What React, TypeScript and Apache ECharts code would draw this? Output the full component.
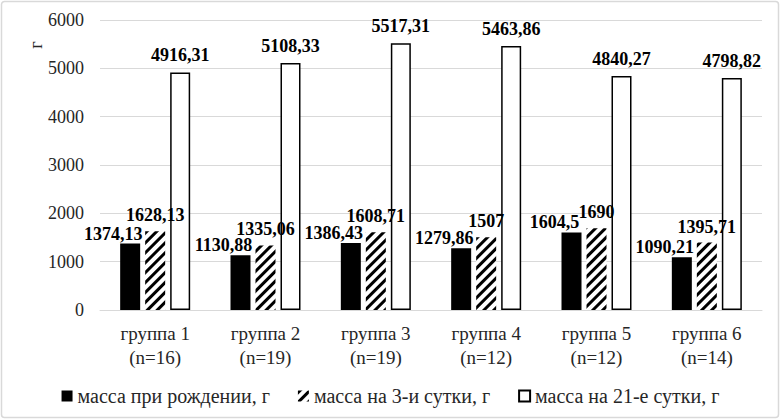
import React, { useEffect, useRef } from "react";
import * as echarts from "echarts";

const categories = [
  "группа 1\n(n=16)",
  "группа 2\n(n=19)",
  "группа 3\n(n=19)",
  "группа 4\n(n=12)",
  "группа 5\n(n=12)",
  "группа 6\n(n=14)",
];
const seriesNames = [
  "масса при рождении, г",
  "масса на 3-и сутки, г",
  "масса на 21-е сутки, г",
];
const birthMass = [1374.13, 1130.88, 1386.43, 1279.86, 1604.5, 1090.21];
const day3Mass = [1628.13, 1335.06, 1608.71, 1507, 1690, 1395.71];
const day21Mass = [4916.31, 5108.33, 5517.31, 5463.86, 4840.27, 4798.82];
const yMin = 0;
const yMax = 6000;
const yStep = 1000;
const axisTitle = "г";

const FONT = "Liberation Serif";
const fmt = (v: number) => String(v).replace(".", ",");

export default function App() {
  const ref = useRef<HTMLDivElement>(null);
  useEffect(() => {
    document.body.style.margin = "0";
    if (!ref.current) return;
    const chart = echarts.init(ref.current, undefined, { renderer: "svg" });
    const labelBase = {
      show: true,
      position: "top" as const,
      fontFamily: FONT,
      fontSize: 18,
      fontWeight: "bold" as const,
      color: "#000",
      formatter: (p: any) => fmt(p.value),
    };
    chart.setOption({
      animation: false,
      backgroundColor: "#fff",
      textStyle: { fontFamily: FONT },
      graphic: [
        {
          type: "rect",
          shape: { x: 1.5, y: 1.5, width: 777, height: 416, r: 3 },
          style: { fill: "none", stroke: "#d9d9d9", lineWidth: 1.5 },
          silent: true,
        },
        {
          type: "text",
          x: 36,
          y: 45,
          rotation: Math.PI / 2,
          style: {
            text: axisTitle,
            font: `18px ${FONT}`,
            fill: "#262626",
            textAlign: "center",
            textVerticalAlign: "middle",
          },
        },
      ],
      grid: { left: 100, right: 19, top: 20, bottom: 110 },
      legend: {
        left: "center",
        top: 381,
        icon: "rect",
        itemWidth: 11,
        itemHeight: 11,
        itemGap: 28,
        textStyle: { fontFamily: FONT, fontSize: 20, color: "#262626" },
        data: seriesNames,
      },
      xAxis: {
        type: "category",
        data: categories,
        axisTick: { show: false },
        axisLine: { lineStyle: { color: "#d9d9d9", width: 1 } },
        axisLabel: {
          fontFamily: FONT,
          fontSize: 19,
          lineHeight: 24,
          color: "#262626",
          margin: 11,
        },
      },
      yAxis: {
        type: "value",
        min: yMin,
        max: yMax,
        interval: yStep,
        axisLine: { show: false },
        axisTick: { show: false },
        splitLine: { lineStyle: { color: "#d9d9d9", width: 1 } },
        axisLabel: {
          fontFamily: FONT,
          fontSize: 18,
          color: "#262626",
          margin: 16,
          formatter: (v: number) => String(v),
        },
      },
      series: [
        {
          name: seriesNames[0],
          type: "bar",
          data: birthMass,
          barWidth: 20,
          barGap: "25%",
          barCategoryGap: "36%",
          itemStyle: { color: "#000" },
          label: { ...labelBase, distance: 0, offset: [-17, -1] },
        },
        {
          name: seriesNames[1],
          type: "bar",
          data: day3Mass,
          barWidth: 20,
          barGap: "25%",
          itemStyle: {
            color: "#fff",
            decal: {
              symbol: "rect",
              symbolSize: 1,
              color: "#000",
              backgroundColor: "#fff",
              dashArrayX: [1, 0],
              dashArrayY: [3, 4],
              rotation: -Math.PI / 4,
            },
          },
          label: { ...labelBase, distance: 7 },
        },
        {
          name: seriesNames[2],
          type: "bar",
          data: day21Mass,
          barWidth: 20,
          barGap: "25%",
          itemStyle: { color: "#fff", borderColor: "#000", borderWidth: 1.5 },
          label: { ...labelBase, distance: 8 },
        },
      ],
    });
    return () => chart.dispose();
  }, []);
  return <div ref={ref} style={{ width: 781, height: 420 }} />;
}
